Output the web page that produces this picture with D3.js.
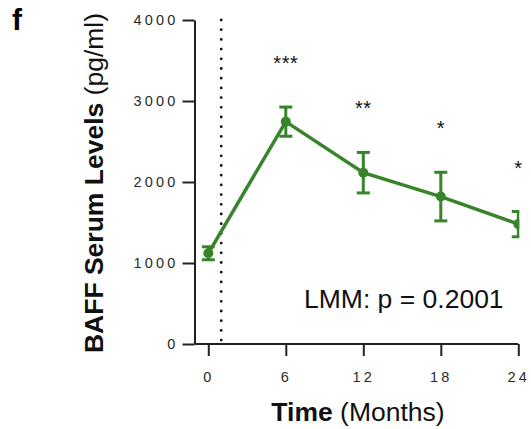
<!DOCTYPE html>
<html>
<head>
<meta charset="utf-8">
<script src="https://cdn.jsdelivr.net/npm/d3@7"></script>
<style>
  body { margin: 0; background: #fff; }
  svg { display: block; font-family: "Liberation Sans", Arial, sans-serif; }
</style>
</head>
<body>
<div id="container"></div>
<script>
/* CONSTANTS AND GLOBALS */
const width = 531,
  height = 429,
  margin = { top: 20, bottom: 85, left: 194.5, right: 12.7 };

const green = "#38842a";

// data
const months = [0, 6, 12, 18, 24];
const baffMean = [1120, 2745, 2115, 1820, 1480];
const baffErr = [80, 180, 250, 300, 155];
const signif = ["", "***", "**", "*", "*"];
const yTicks = [0, 1000, 2000, 3000, 4000];
const xTicks = [0, 6, 12, 18, 24];
const treatmentMonth = 1;
const statText = "LMM: p = 0.2001";

const data = months.map((m, i) => ({ month: m, mean: baffMean[i], err: baffErr[i], sig: signif[i] }));

const svg = d3.select("#container")
  .append("svg")
  .attr("width", width)
  .attr("height", height);

// + SCALES
const xScale = d3.scaleLinear()
  .domain([0, 24])
  .range([208.3, width - margin.right]);

const yScale = d3.scaleLinear()
  .domain([0, 4000])
  .range([height - margin.bottom, margin.top]);

// + AXES
const yAxis = d3.axisLeft(yScale)
  .tickValues(yTicks)
  .tickSize(12)
  .tickSizeOuter(0)
  .tickPadding(4)
  .tickFormat(d3.format("d"));

const xAxis = d3.axisBottom(xScale)
  .tickValues(xTicks)
  .tickSize(12)
  .tickSizeOuter(0)
  .tickPadding(16);

const yAxisGroup = svg.append("g")
  .attr("transform", `translate(${margin.left}, 0)`)
  .call(yAxis);

const xAxisGroup = svg.append("g")
  .attr("transform", `translate(0, ${yScale(0)})`)
  .call(xAxis);
// x axis line starts at the y axis
xAxisGroup.select(".domain").attr("d", `M${margin.left},0H${xScale(24)}`);

[xAxisGroup, yAxisGroup].forEach(g => {
  g.selectAll(".domain, .tick line")
    .attr("stroke", "#222")
    .attr("stroke-width", 2);
  g.selectAll(".tick text")
    .attr("fill", "#2a2a2a")
    .attr("font-size", 14.5)
    .attr("letter-spacing", "3.2px");
});

// dotted treatment line
svg.append("line")
  .attr("x1", xScale(treatmentMonth))
  .attr("x2", xScale(treatmentMonth))
  .attr("y1", yScale(4000))
  .attr("y2", yScale(0))
  .attr("stroke", "#111")
  .attr("stroke-width", 2.8)
  .attr("stroke-linecap", "round")
  .attr("stroke-dasharray", "0,9.7");

// clip at right end of the x axis
svg.append("clipPath")
  .attr("id", "plotClip")
  .append("rect")
  .attr("x", 0)
  .attr("y", 0)
  .attr("width", xScale(24) + 1)
  .attr("height", height);

const plot = svg.append("g").attr("clip-path", "url(#plotClip)");

// + LINE
const lineGen = d3.line()
  .x(d => xScale(d.month))
  .y(d => yScale(d.mean));

plot.append("path")
  .datum(data)
  .attr("fill", "none")
  .attr("stroke", green)
  .attr("stroke-width", 3.5)
  .attr("d", lineGen);

// error bars
const capW = 6.5;
const eb = plot.selectAll(".errbar")
  .data(data)
  .join("g")
  .attr("class", "errbar")
  .attr("stroke", green)
  .attr("stroke-width", 3);

eb.append("line")
  .attr("x1", d => xScale(d.month))
  .attr("x2", d => xScale(d.month))
  .attr("y1", d => yScale(d.mean + d.err))
  .attr("y2", d => yScale(d.mean - d.err));
eb.append("line")
  .attr("x1", d => xScale(d.month) - capW)
  .attr("x2", d => xScale(d.month) + capW)
  .attr("y1", d => yScale(d.mean + d.err))
  .attr("y2", d => yScale(d.mean + d.err));
eb.append("line")
  .attr("x1", d => xScale(d.month) - capW)
  .attr("x2", d => xScale(d.month) + capW)
  .attr("y1", d => yScale(d.mean - d.err))
  .attr("y2", d => yScale(d.mean - d.err));

plot.selectAll(".dot")
  .data(data)
  .join("circle")
  .attr("class", "dot")
  .attr("cx", d => xScale(d.month))
  .attr("cy", d => yScale(d.mean))
  .attr("r", 5)
  .attr("fill", green);

// significance stars, placed above the error bar
svg.selectAll(".sig")
  .data(data.filter(d => d.sig))
  .join("text")
  .attr("class", "sig")
  .attr("x", d => xScale(d.month))
  .attr("y", d => yScale(d.mean + d.err) - 48 + 11)
  .attr("text-anchor", "middle")
  .attr("font-size", 20)
  .attr("letter-spacing", "0.5px")
  .attr("fill", "#111")
  .text(d => d.sig);

// stats text
svg.append("text")
  .attr("x", 304)
  .attr("y", 308)
  .attr("font-size", 26.5)
  .attr("fill", "#111")
  .text(statText);

// panel letter
svg.append("text")
  .attr("x", 12)
  .attr("y", 30)
  .attr("font-size", 30)
  .attr("font-weight", "bold")
  .attr("fill", "#000")
  .text("f");

// axis titles
const yTitle = svg.append("text")
  .attr("transform", `translate(103, ${(yScale(0) + yScale(4000)) / 2 + 1}) rotate(-90)`)
  .attr("text-anchor", "middle")
  .attr("font-size", 26.5)
  .attr("fill", "#111");
yTitle.append("tspan").attr("font-weight", "bold").text("BAFF Serum Levels ");
yTitle.append("tspan").text("(pg/ml)");

const xTitle = svg.append("text")
  .attr("x", 358)
  .attr("y", 421)
  .attr("text-anchor", "middle")
  .attr("font-size", 26.5)
  .attr("fill", "#111");
xTitle.append("tspan").attr("font-weight", "bold").text("Time ");
xTitle.append("tspan").text("(Months)");
</script>
</body>
</html>
